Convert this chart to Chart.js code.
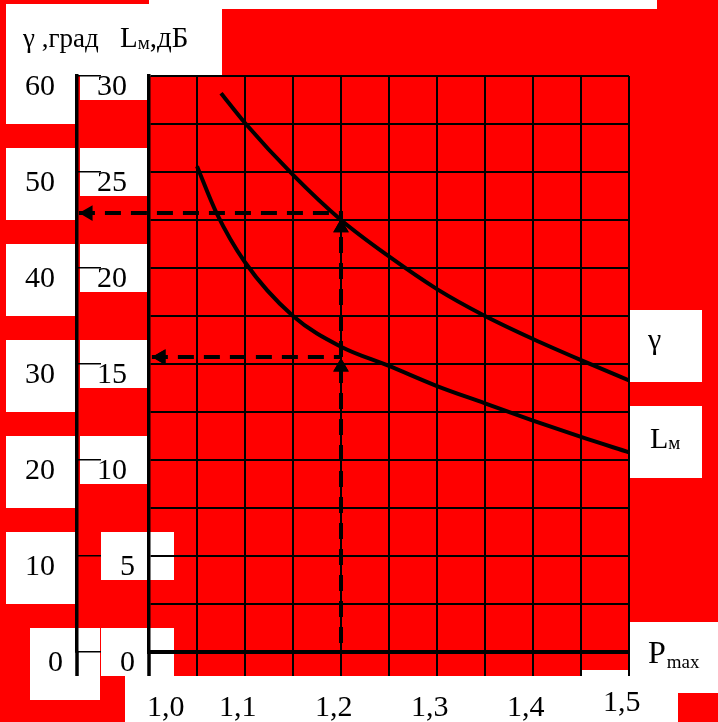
<!DOCTYPE html>
<html>
<head>
<meta charset="utf-8">
<script src="https://cdn.jsdelivr.net/npm/chart.js@4.4.1/dist/chart.umd.min.js"></script>
<style>
  html, body { margin: 0; padding: 0; background: #ff0000; }
  canvas { display: block; }
</style>
</head>
<body>
<canvas id="chart" width="718" height="722"></canvas>
<script>
// Curves: P_max on x, gamma (deg) and L_m (dB)
const gammaPressure = [1.075, 1.10, 1.15, 1.20, 1.25, 1.30, 1.35, 1.40, 1.45, 1.50];
const gammaValues   = [58.2, 55.1, 49.7, 45.0, 41.2, 37.8, 35.0, 32.6, 30.4, 28.3];
const lossPressure  = [1.05, 1.07, 1.10, 1.15, 1.20, 1.25, 1.30, 1.35, 1.40, 1.45, 1.50];
const lossValues    = [25.3, 22.9, 20.3, 17.5, 15.9, 14.9, 13.85, 12.95, 12.05, 11.2, 10.4];

// Dashed read-off lines at P_max = 1,2 (values on the L axis)
const guideUpperP = [0.927, 1.2, 1.2];
const guideUpperL = [22.86, 22.86, 0];
const guideLowerP = [1.003, 1.2];
const guideLowerL = [15.36, 15.36];

// Arrow heads (centre of each head)
const arrowLeftP = [0.9365, 1.0125];
const arrowLeftL = [22.86, 15.36];
const arrowUpP = [1.2, 1.2];
const arrowUpL = [22.1, 14.85];

// Tick labels
const xTickValues = [1.0, 1.1, 1.2, 1.3, 1.4, 1.5];
const xTickLabels = ['1,0', '1,1', '1,2', '1,3', '1,4', '1,5'];
const gammaTicks = [0, 10, 20, 30, 40, 50, 60];
const lossTicks = [0, 5, 10, 15, 20, 25, 30];

const RED = '#ff0000';
const INK = '#000000';
const SERIF = '"Liberation Serif", "Times New Roman", serif';

function pairs(xs, ys) {
    return xs.map((v, i) => ({ x: v, y: ys[i] }));
}

// red sheet with white label boxes, drawn under the grid
const paperPlugin = {
    id: 'paper',
    beforeDraw(chart) {
        const ctx = chart.ctx;
        const area = chart.chartArea;
        const yG = chart.scales.yG;
        const yL = chart.scales.yL;
        ctx.save();
        ctx.fillStyle = RED;
        ctx.fillRect(0, 0, chart.width, chart.height);
        ctx.fillStyle = '#ffffff';
        // header
        ctx.fillRect(6, 4, 216, area.top - 4);
        ctx.fillRect(149, 0, 508, 9);
        // gamma tick label boxes
        gammaTicks.forEach(v => {
            const py = yG.getPixelForValue(v);
            ctx.fillRect(v < 10 ? 30 : 6, py - 24, 70, 72);
        });
        // L tick label boxes
        lossTicks.forEach(v => {
            const py = yL.getPixelForValue(v);
            if (v < 10) ctx.fillRect(101, py - 24, 73, 48);
            else ctx.fillRect(80, py - 24, 68, 48);
        });
        // curve names
        ctx.fillRect(area.right + 1, 310, 72, 72);
        ctx.fillRect(area.right + 1, 406, 72, 72);
        // x labels and P_max
        ctx.fillRect(125, area.bottom + 24, 553, chart.height - area.bottom - 24);
        ctx.fillRect(582, area.bottom + 18, 96, 60);
        ctx.fillRect(area.right + 1, 622, chart.width - area.right, 71);
        ctx.restore();
    }
};

// arrow heads that sit outside the plot area are skipped by Chart.js,
// so draw the arrow points again against the whole canvas
const arrowPlugin = {
    id: 'arrows',
    afterDatasetsDraw(chart) {
        const whole = { left: 0, top: 0, right: chart.width, bottom: chart.height };
        chart.data.datasets.forEach((ds, i) => {
            if (!ds.isArrow) return;
            chart.getDatasetMeta(i).data.forEach(pt => pt.draw(chart.ctx, whole));
        });
    }
};

// axis lines running past the x axis, then all the text
const labelPlugin = {
    id: 'labels',
    afterDraw(chart) {
        const ctx = chart.ctx;
        const area = chart.chartArea;
        const { x, yG, yL } = chart.scales;
        ctx.save();
        ctx.strokeStyle = INK;
        ctx.lineWidth = 3.5;
        [yG.right, yL.right].forEach(px => {
            ctx.beginPath();
            ctx.moveTo(px, area.bottom);
            ctx.lineTo(px, area.bottom + 24);
            ctx.stroke();
        });

        ctx.fillStyle = INK;
        ctx.textAlign = 'left';
        ctx.textBaseline = 'alphabetic';
        ctx.font = '30px ' + SERIF;
        gammaTicks.forEach(v => {
            ctx.fillText(String(v), v < 10 ? 48 : 25, yG.getPixelForValue(v) + 19);
        });
        lossTicks.forEach(v => {
            ctx.fillText(String(v), v < 10 ? 120 : 97, yL.getPixelForValue(v) + 19);
        });
        xTickValues.forEach((v, i) => {
            const px = x.getPixelForValue(v);
            const last = i === xTickValues.length - 1;
            ctx.fillText(xTickLabels[i], i === 0 ? px - 2 : px - 26, area.bottom + (last ? 59 : 64));
        });

        // header: gamma, deg   L_m, dB
        ctx.font = '27px ' + SERIF;
        ctx.fillText('γ ,град', 23, 47);
        let cx = 120;
        ctx.font = '29px ' + SERIF;
        ctx.fillText('L', cx, 47);
        cx += ctx.measureText('L').width;
        ctx.font = '19px ' + SERIF;
        ctx.fillText('м', cx, 49);
        cx += ctx.measureText('м').width;
        ctx.font = '29px ' + SERIF;
        ctx.fillText(',дБ', cx, 47);

        // curve names
        ctx.font = '30px ' + SERIF;
        ctx.fillText('γ', 648, 349);
        ctx.fillText('L', 650, 448);
        cx = 650 + ctx.measureText('L').width;
        ctx.font = '19px ' + SERIF;
        ctx.fillText('м', cx, 449);

        // x axis name
        ctx.font = '32px ' + SERIF;
        ctx.fillText('P', 648, 663);
        cx = 648 + ctx.measureText('P').width + 1;
        ctx.font = '19px ' + SERIF;
        ctx.fillText('max', cx, 668);
        ctx.restore();
    }
};

const chart = new Chart(document.getElementById('chart'), {
    type: 'line',
    data: {
        datasets: [
            {
                data: pairs(gammaPressure, gammaValues),
                yAxisID: 'yG',
                borderColor: INK,
                borderWidth: 4,
                pointRadius: 0,
                cubicInterpolationMode: 'monotone'
            },
            {
                data: pairs(lossPressure, lossValues),
                yAxisID: 'yL',
                borderColor: INK,
                borderWidth: 4,
                pointRadius: 0,
                cubicInterpolationMode: 'monotone'
            },
            {
                data: pairs(guideUpperP, guideUpperL),
                yAxisID: 'yL',
                borderColor: INK,
                borderWidth: 4,
                borderDash: [16, 10],
                pointRadius: 0,
                clip: false
            },
            {
                data: pairs(guideLowerP, guideLowerL),
                yAxisID: 'yL',
                borderColor: INK,
                borderWidth: 4,
                borderDash: [16, 10],
                pointRadius: 0,
                clip: false
            },
            {
                data: pairs(arrowLeftP, arrowLeftL),
                yAxisID: 'yL',
                isArrow: true,
                showLine: false,
                pointStyle: 'triangle',
                pointRadius: 9,
                pointRotation: -90,
                pointBackgroundColor: INK,
                pointBorderWidth: 0,
                clip: false
            },
            {
                data: pairs(arrowUpP, arrowUpL),
                yAxisID: 'yL',
                isArrow: true,
                showLine: false,
                pointStyle: 'triangle',
                pointRadius: 9,
                pointRotation: 0,
                pointBackgroundColor: INK,
                pointBorderWidth: 0,
                clip: false
            }
        ]
    },
    options: {
        responsive: false,
        devicePixelRatio: 1,
        animation: false,
        events: [],
        layout: { padding: { left: 0, top: 76, right: 89, bottom: 46 } },
        plugins: {
            legend: { display: false },
            tooltip: { enabled: false }
        },
        scales: {
            x: {
                type: 'linear',
                min: 1.0,
                max: 1.5,
                ticks: { stepSize: 0.05, display: false },
                grid: { color: INK, lineWidth: 2, tickLength: 24, tickColor: INK },
                border: { color: INK, width: 4 },
                afterFit: s => { s.height = 24; }
            },
            yG: {
                type: 'linear',
                position: 'left',
                weight: 1,
                min: 0,
                max: 60,
                ticks: { stepSize: 10, display: false },
                grid: { drawOnChartArea: false, tickLength: -24, lineWidth: 1.5, color: INK, tickColor: INK },
                border: { color: INK, width: 3.5 },
                afterFit: s => { s.width = 77; }
            },
            yL: {
                type: 'linear',
                position: 'left',
                weight: 0,
                min: 0,
                max: 30,
                ticks: { stepSize: 2.5, display: false },
                grid: { drawTicks: false, color: INK, lineWidth: 2 },
                border: { color: INK, width: 3.5 },
                afterFit: s => { s.width = 72; }
            }
        }
    },
    plugins: [paperPlugin, arrowPlugin, labelPlugin]
});
</script>
</body>
</html>
